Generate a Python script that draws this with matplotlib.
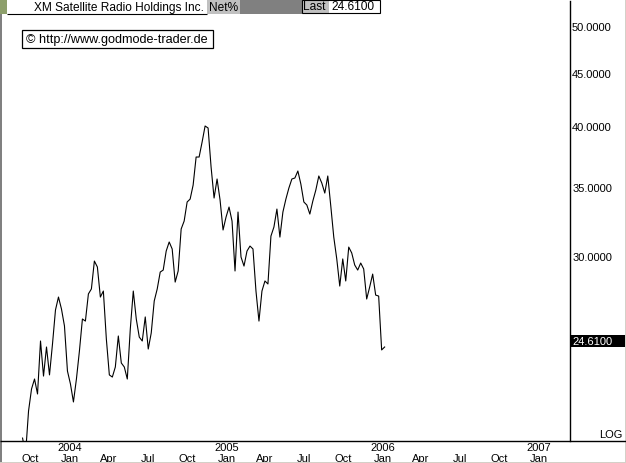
import numpy as np
import pandas as pd
import matplotlib
matplotlib.use("Agg")
import matplotlib.pyplot as plt
import matplotlib.dates as mdates
from matplotlib.patches import Rectangle
from matplotlib.lines import Line2D
from matplotlib.ticker import NullFormatter, NullLocator
from matplotlib.transforms import ScaledTranslation

W, H = 626, 464

# weekly closes (first week 2003-09-12)
start_date = "2003-09-12"
closes = [
    20.10, 19.40, 21.35, 22.42, 22.92, 22.17, 24.94, 23.07, 24.61, 23.13,
    24.77, 26.72, 27.50, 26.78, 25.79, 23.33, 22.67, 21.78, 22.92, 24.39,
    26.19, 26.07, 27.69, 28.00, 29.79, 29.40, 27.50, 27.87, 25.05, 23.13,
    23.02, 23.54, 25.22, 23.75, 23.54, 22.92, 25.61, 27.87, 26.19, 25.16,
    24.94, 26.31, 24.50, 25.39, 27.26, 28.00, 29.07, 29.20, 30.46, 31.08,
    30.60, 28.43, 29.14, 31.99, 32.56, 33.97, 34.19, 35.27, 37.54, 37.54,
    38.81, 40.22, 40.04, 36.71, 34.27, 35.75, 34.12, 31.92, 32.85, 33.59,
    32.56, 29.14, 33.22, 30.06, 29.46, 30.46, 30.80, 30.60, 27.87, 26.07,
    27.87, 28.50, 28.31, 31.49, 32.13, 33.44, 31.42, 33.22, 34.19, 35.04,
    35.75, 35.83, 36.39, 35.35, 33.97, 33.74, 33.07, 34.04, 34.88, 35.99,
    35.43, 34.65, 35.99, 33.67, 31.42, 29.93, 28.18, 29.93, 28.50, 30.73,
    30.33, 29.53, 29.20, 29.66, 29.27, 27.38, 28.12, 28.94, 27.62, 27.56,
    24.45, 24.61,
]
last_close = 24.61

price_ticks = [25, 30, 35, 40, 45, 50]

quarter_starts = [
    "2003-10-01", "2004-01-01", "2004-04-01", "2004-07-01", "2004-10-01",
    "2005-01-01", "2005-04-01", "2005-07-01", "2005-10-01",
    "2006-01-01", "2006-04-01", "2006-07-01", "2006-10-01", "2007-01-01",
]
quarter_labels = ["Oct", "Jan", "Apr", "Jul", "Oct", "Jan", "Apr", "Jul", "Oct",
                  "Jan", "Apr", "Jul", "Oct", "Jan"]
year_starts = ["2004-01-01", "2005-01-01", "2006-01-01", "2007-01-01"]
year_labels = ["2004", "2005", "2006", "2007"]

title = "XM Satellite Radio Holdings Inc."
credit = "\u00a9 http://www.godmode-trader.de"

FONT = "Liberation Sans"
FS = 8


def px_rect(fig, x0, y0, x1, y1, fc="none", ec="none", lw=0, z=2):
    r = Rectangle((x0 / W, 1 - y1 / H), (x1 - x0) / W, (y1 - y0) / H,
                  transform=fig.transFigure, facecolor=fc, edgecolor=ec,
                  linewidth=lw, zorder=z)
    fig.add_artist(r)


def px_line(fig, x0, y0, x1, y1, color="black", lw=0.8, z=3):
    fig.add_artist(Line2D([x0 / W, x1 / W], [1 - y0 / H, 1 - y1 / H],
                          transform=fig.transFigure, color=color,
                          linewidth=lw, zorder=z, solid_capstyle="butt"))


def px_text(fig, x, y, s, **kw):
    kw.setdefault("fontsize", FS)
    kw.setdefault("family", FONT)
    kw.setdefault("va", "center")
    fig.text(x / W, 1 - y / H, s, zorder=5, **kw)


plt.rcParams["font.family"] = [FONT, "DejaVu Sans"]

fig = plt.figure(figsize=(W / 100, H / 100), dpi=100)
fig.patch.set_facecolor("white")

# plot area: x 2..570, y 2..442 in pixels
ax = fig.add_axes([2 / W, (H - 442) / H, (570 - 2) / W, (442 - 2) / H])

dates = pd.date_range(start_date, periods=len(closes), freq="W-FRI")
ax.plot(dates, closes, color="black", linewidth=0.8)

ax.set_yscale("log")
ax.set_ylim(19.97, 53.1)
base = mdates.date2num(np.datetime64("2004-01-01"))
ax.set_xlim(base - 159.1, base + 1169.6)

ax.set_yticks(price_ticks, [f"{v:.4f}" for v in price_ticks])
ax.yaxis.set_minor_locator(NullLocator())
ax.yaxis.set_minor_formatter(NullFormatter())
ax.yaxis.tick_right()
ax.tick_params(axis="y", length=0, pad=1.5, labelsize=FS)
# price labels sit a touch above their level
lift = ScaledTranslation(0, 2 / 100, fig.dpi_scale_trans)
for t in ax.yaxis.get_major_ticks():
    t.label2.set_transform(t.label2.get_transform() + lift)

qpos = mdates.date2num(pd.to_datetime(quarter_starts))
ypos = mdates.date2num(pd.to_datetime(year_starts))
ax.xaxis.remove_overlapping_locs = False
ax.set_xticks(qpos, quarter_labels)
ax.set_xticks(ypos, year_labels, minor=True)
ax.tick_params(axis="x", which="major", length=0, pad=8.5, labelsize=FS)
ax.tick_params(axis="x", which="minor", length=0, pad=1.0, labelsize=FS)

for s in ["left", "top", "bottom"]:
    ax.spines[s].set_visible(False)
ax.spines["right"].set_linewidth(1.0)

# full-width bottom axis line
px_line(fig, 0, 442, W, 442, lw=1.0)

# outer frame
px_rect(fig, 0, 0, 2, H, fc="#808080")
px_rect(fig, 0, 0, W, 1, fc="#a0a0a0")
px_rect(fig, W - 1, 0, W, H, fc="#d4d0c8")
px_rect(fig, 0, H - 1, W, H, fc="#d4d0c8")

# header bar
px_rect(fig, 0, 0, 7, 15, fc="#8d9f6b")
px_rect(fig, 7, 1, 207, 15, fc="white")
px_line(fig, 7, 15, 207, 15)
px_text(fig, 204, 8, title, ha="right", fontsize=8.6)
px_rect(fig, 207, 0, 240, 15, fc="#c0c0c0")
px_text(fig, 208.5, 8, "Net%", ha="left", fontsize=8.6)
px_rect(fig, 240, 0, 302, 15, fc="#808080")
px_rect(fig, 302, 0.5, 329, 13.5, fc="#c0c0c0")
px_rect(fig, 329, 0.5, 380, 13.5, fc="white")
px_rect(fig, 302, 0.5, 380, 13.5, ec="black", lw=0.8, z=3)
px_text(fig, 303.5, 7.5, "Last", ha="left", fontsize=8.6)
px_text(fig, 331, 7.5, f"{last_close:.4f}", ha="left", fontsize=8.6)

# credit box
px_rect(fig, 22, 31, 213, 49, fc="white", ec="black", lw=0.9)
px_text(fig, 26.5, 40, credit, ha="left", fontsize=9.1)

# last price marker on the scale (the 25 label peeks out above it)
fig.canvas.draw()
y_disp = ax.transData.transform((base, last_close))[1]
y_val = H - y_disp
px_rect(fig, 571, y_val - 12.5, W - 1, y_val - 0.5, fc="black")
px_text(fig, 572, y_val - 6.5, f"{last_close:.4f}", ha="left", color="white")

px_text(fig, 623, 435, "LOG", ha="right")

fig.savefig("out.png", dpi=100, facecolor="white")
